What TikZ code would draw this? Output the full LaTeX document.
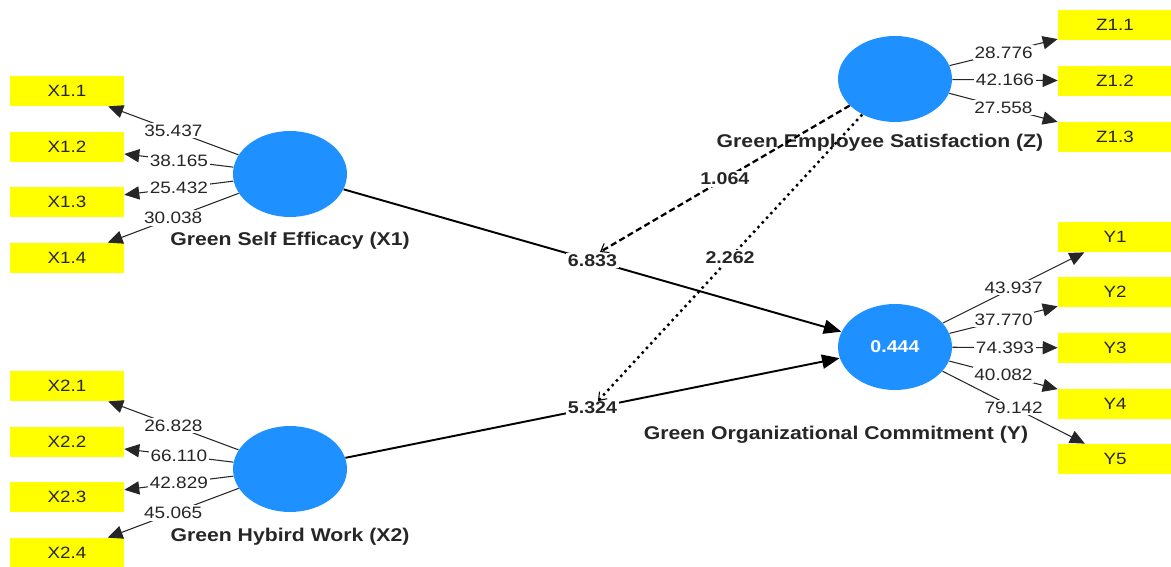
\documentclass[tikz,border=0pt]{standalone}
\usepackage{fontspec}
\setmainfont{Liberation Sans}[FakeStretch=1.15]
\usetikzlibrary{shapes.geometric,arrows.meta}
\definecolor{lvblue}{RGB}{30,144,255}
\definecolor{mvyellow}{RGB}{255,255,0}

\begin{document}
\begin{tikzpicture}[x=0.02cm, y=-0.02cm,
    latent/.style={ellipse, fill=lvblue, minimum width=2.28cm, minimum height=1.72cm, inner sep=0pt},
    indicator/.style={fill=mvyellow, minimum width=2.28cm, minimum height=0.6cm, inner sep=0pt,
        font=\fontsize{9.3}{11}\selectfont, text=black!85},
    lvname/.style={font=\fontsize{10.5}{12}\selectfont\bfseries, text=black!85},
    loading/.style={-{Triangle[length=8.5pt,width=7.5pt]}, line width=0.6pt, black!85},
    weight/.style={fill=white, inner sep=1pt, font=\fontsize{9.4}{11}\selectfont, text=black!85},
    structural/.style={-{Triangle[length=10pt,width=8pt]}, line width=1.1pt},
    coef/.style={fill=white, inner sep=1pt, font=\fontsize{9.7}{11}\selectfont\bfseries, text=black!85},
    moddash/.style={-{Straight Barb[length=4pt,width=6pt,line width=0.6pt]}, line width=1.3pt, dash pattern=on 3.5pt off 2pt},
    moddot/.style={-{Straight Barb[length=4pt,width=6pt,line width=0.6pt]}, line width=1.4pt, dash pattern=on 1.4pt off 2.2pt}
]
    \useasboundingbox (0, 0) rectangle (1171, 567);

    % latent variables
    \node[latent] (gse) at (290, 174) {};
    \node[latent] (ghw) at (290, 469) {};
    \node[latent] (ges) at (895, 79) {};
    \node[latent] (goc) at (895, 347) {\fontsize{9.7}{11}\selectfont\bfseries\color{white}0.444};

    \node[lvname] at (290, 241) {Green Self Efficacy (X1)};
    \node[lvname] at (290, 537) {Green Hybird Work (X2)};
    \node[lvname] at (880, 143) {Green Employee Satisfaction (Z)};
    \node[lvname] at (836, 435) {Green Organizational Commitment (Y)};

    % indicators
    \node[indicator] (x11) at (67, 91) {X1.1};
    \node[indicator] (x12) at (67, 147) {X1.2};
    \node[indicator] (x13) at (67, 202) {X1.3};
    \node[indicator] (x14) at (67, 258) {X1.4};

    \node[indicator] (x21) at (67, 386) {X2.1};
    \node[indicator] (x22) at (67, 442) {X2.2};
    \node[indicator] (x23) at (67, 497) {X2.3};
    \node[indicator] (x24) at (67, 553) {X2.4};

    \node[indicator] (z11) at (1115, 25) {Z1.1};
    \node[indicator] (z12) at (1115, 81) {Z1.2};
    \node[indicator] (z13) at (1115, 137) {Z1.3};

    \node[indicator] (y1) at (1115, 237) {Y1};
    \node[indicator] (y2) at (1115, 292) {Y2};
    \node[indicator] (y3) at (1115, 348) {Y3};
    \node[indicator] (y4) at (1115, 404) {Y4};
    \node[indicator] (y5) at (1115, 459) {Y5};

    % outer loadings
    \draw[loading] (gse) -- node[weight] {35.437} (x11);
    \draw[loading] (gse) -- node[weight] {38.165} (x12);
    \draw[loading] (gse) -- node[weight] {25.432} (x13);
    \draw[loading] (gse) -- node[weight] {30.038} (x14);

    \draw[loading] (ghw) -- node[weight] {26.828} (x21);
    \draw[loading] (ghw) -- node[weight] {66.110} (x22);
    \draw[loading] (ghw) -- node[weight] {42.829} (x23);
    \draw[loading] (ghw) -- node[weight] {45.065} (x24);

    \draw[loading] (ges) -- node[weight] {28.776} (z11);
    \draw[loading] (ges) -- node[weight] {42.166} (z12);
    \draw[loading] (ges) -- node[weight] {27.558} (z13);

    \draw[loading] (goc) -- node[weight] {43.937} (y1);
    \draw[loading] (goc) -- node[weight] {37.770} (y2);
    \draw[loading] (goc) -- node[weight] {74.393} (y3);
    \draw[loading] (goc) -- node[weight] {40.082} (y4);
    \draw[loading] (goc) -- node[weight] {79.142} (y5);

    % structural paths
    \draw[structural] (gse) -- node[coef] (p1) {6.833} (goc);
    \draw[structural] (ghw) -- node[coef] (p2) {5.324} (goc);

    % moderating effects of Z
    \coordinate (m1) at (600, 252);
    \coordinate (m2) at (598, 401);
    \draw[moddash] (ges) -- node[coef] {1.064} (m1);
    \draw[moddot] (ges) -- node[coef] {2.262} (m2);
\end{tikzpicture}
\end{document}
